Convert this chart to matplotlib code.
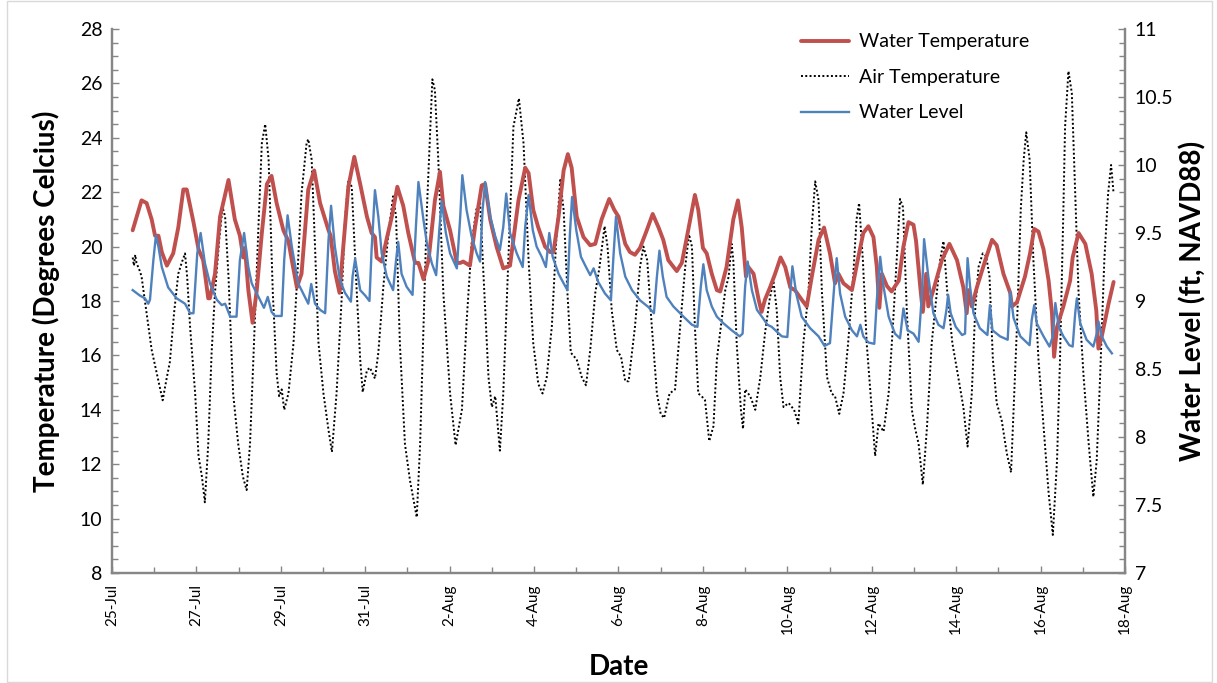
import numpy as np
import pandas as pd
import matplotlib
matplotlib.use('Agg')
import matplotlib.pyplot as plt
import matplotlib.dates as mdates
from matplotlib.ticker import MultipleLocator
from matplotlib.patches import Rectangle

plt.rcParams['font.family'] = ['Lato', 'DejaVu Sans']

# time axis: days after 25-Jul 00:00
start_date = pd.Timestamp('2012-07-25')
end_date = pd.Timestamp('2012-08-18')

# Water temperature (deg C)
wt_day = [0.49, 0.70, 0.82, 0.94, 1.02, 1.10, 1.18, 1.30, 1.45, 1.57, 1.69, 1.77, 1.93, 2.05, 2.16, 2.28, 2.32,
          2.44, 2.56, 2.76, 2.91, 3.03, 3.11, 3.15, 3.23, 3.33, 3.43, 3.55, 3.67, 3.78, 3.90, 4.06, 4.18, 4.26,
          4.38, 4.49, 4.65, 4.79, 4.93, 5.01, 5.13, 5.18, 5.28, 5.39, 5.48, 5.60, 5.74, 5.88, 6.04, 6.15, 6.23,
          6.27, 6.39, 6.51, 6.63, 6.76, 6.90, 7.02, 7.18, 7.26, 7.38, 7.50, 7.65, 7.77, 7.85, 8.01, 8.17, 8.25,
          8.32, 8.48, 8.60, 8.76, 8.84, 8.96, 9.11, 9.27, 9.43, 9.63, 9.79, 9.87, 9.98, 10.10, 10.26, 10.38,
          10.46, 10.58, 10.70, 10.80, 10.89, 11.01, 11.17, 11.33, 11.45, 11.60, 11.78, 11.90, 12.00, 12.16,
          12.27, 12.39, 12.51, 12.67, 12.81, 12.95, 13.06, 13.18, 13.38, 13.50, 13.62, 13.81, 13.89, 14.00,
          14.09, 14.21, 14.33, 14.41, 14.56, 14.72, 14.83, 14.92, 15.02, 15.05, 15.20, 15.32, 15.39, 15.47,
          15.59, 15.71, 15.84, 15.95, 16.07, 16.18, 16.34, 16.46, 16.58, 16.74, 16.87, 17.01, 17.13, 17.21,
          17.33, 17.53, 17.68, 17.80, 17.92, 18.04, 18.12, 18.18, 18.24, 18.36, 18.47, 18.64, 18.75, 18.87,
          18.99, 19.05, 19.15, 19.21, 19.29, 19.34, 19.46, 19.66, 19.84, 20.02, 20.17, 20.25, 20.29, 20.37,
          20.49, 20.69, 20.85, 20.96, 21.12, 21.28, 21.32, 21.44, 21.63, 21.75, 21.85, 21.95, 22.07, 22.19,
          22.27, 22.32, 22.39, 22.54, 22.70, 22.76, 22.90, 23.06, 23.21, 23.32, 23.37, 23.45, 23.61, 23.73]
wt_val = [20.6, 21.7, 21.6, 21.0, 20.4, 20.4, 19.8, 19.3, 19.75, 20.7, 22.1, 22.1, 20.9, 19.9, 19.5, 18.1, 18.1,
          19.0, 21.1, 22.45, 21.0, 20.4, 19.6, 19.95, 18.4, 17.2, 18.4, 20.5, 22.3, 22.6, 21.6, 20.6, 20.2, 19.5,
          18.5, 19.0, 22.1, 22.8, 21.6, 21.2, 20.6, 20.4, 19.1, 18.3, 20.0, 22.2, 23.3, 22.3, 21.1, 20.5, 20.35,
          19.6, 19.45, 20.3, 21.1, 22.2, 21.5, 20.5, 19.4, 19.4, 18.8, 19.5, 21.7, 22.75, 21.5, 20.6, 19.4, 19.4,
          19.45, 19.3, 20.7, 22.25, 22.3, 21.0, 20.0, 19.2, 19.3, 21.7, 22.9, 22.7, 21.35, 20.7, 20.0, 19.8,
          19.8, 21.1, 22.8, 23.4, 22.9, 21.1, 20.35, 20.05, 20.1, 21.0, 21.75, 21.35, 21.1, 20.1,
          19.8, 19.7, 19.95, 20.6, 21.2, 20.7, 20.25, 19.5, 19.1, 19.4, 20.35, 21.9, 21.35, 19.95,
          19.75, 19.0, 18.4, 18.35, 19.25, 21.0, 21.7, 20.7, 18.9, 19.3, 19.0, 18.05, 17.6, 18.05,
          18.5, 19.0, 19.6, 19.25, 18.5, 18.4, 18.05, 17.8, 18.9, 20.25, 20.7, 19.75, 18.65, 19.0,
          18.65, 18.4, 19.6, 20.5, 20.75, 20.35, 19.25, 17.75, 19.0, 18.55, 18.35, 18.75, 20.0, 20.9,
          20.8, 20.2, 18.5, 17.6, 19.0, 17.8, 18.4, 19.5, 20.1, 19.5, 18.5, 17.55, 18.4, 17.8,
          18.5, 19.5, 20.25, 20.05, 19.0, 18.3, 17.8, 17.95, 18.9, 19.75, 20.65, 20.55, 19.9, 18.75,
          17.55, 15.95, 17.05, 17.8, 18.75, 19.6, 20.5, 20.1, 19.0, 17.65, 16.25, 16.7, 17.9, 18.7]

# Air temperature (deg C)
at_day = [0.49, 0.52, 0.55, 0.58, 0.66, 0.70, 0.82, 0.94, 1.06, 1.20, 1.30, 1.37, 1.47, 1.57, 1.65, 1.73, 1.78,
          1.85, 1.97, 2.05, 2.13, 2.20, 2.28, 2.36, 2.44, 2.54, 2.62, 2.68, 2.76, 2.87, 2.99, 3.10, 3.19, 3.27,
          3.36, 3.47, 3.55, 3.63, 3.71, 3.81, 3.90, 3.96, 4.02, 4.08, 4.18, 4.30, 4.39, 4.49, 4.61, 4.65, 4.73,
          4.81, 4.89, 5.01, 5.13, 5.21, 5.32, 5.44, 5.52, 5.60, 5.68, 5.80, 5.88, 5.94, 6.04, 6.11, 6.23, 6.31,
          6.43, 6.55, 6.66, 6.73, 6.82, 6.94, 7.06, 7.22, 7.30, 7.38, 7.46, 7.52, 7.59, 7.65, 7.73, 7.85, 8.01,
          8.14, 8.29, 8.40, 8.52, 8.63, 8.72, 8.80, 8.92, 9.00, 9.08, 9.19, 9.27, 9.39, 9.51, 9.64, 9.75, 9.87,
          9.98, 10.10, 10.20, 10.30, 10.42, 10.52, 10.62, 10.70, 10.79, 10.87, 11.01, 11.13, 11.23, 11.33,
          11.45, 11.55, 11.67, 11.74, 11.84, 11.96, 12.06, 12.16, 12.24, 12.39, 12.51, 12.59, 12.68, 12.79,
          12.91, 13.00, 13.08, 13.21, 13.34, 13.46, 13.58, 13.67, 13.74, 13.81, 13.89, 13.97, 14.05, 14.15,
          14.25, 14.33, 14.45, 14.53, 14.61, 14.68, 14.72, 14.80, 14.90, 14.95, 15.00, 15.12, 15.24, 15.36,
          15.47, 15.58, 15.67, 15.75, 15.83, 15.91, 16.03, 16.16, 16.26, 16.38, 16.50, 16.58, 16.66, 16.74,
          16.82, 16.94, 17.05, 17.13, 17.23, 17.33, 17.44, 17.56, 17.64, 17.70, 17.79, 17.88, 18.00, 18.08,
          18.16, 18.28, 18.40, 18.50, 18.59, 18.67, 18.74, 18.83, 18.95, 19.03, 19.11, 19.21, 19.31, 19.42,
          19.54, 19.62, 19.70, 19.79, 19.91, 20.05, 20.17, 20.27, 20.37, 20.45, 20.53, 20.63, 20.71, 20.79,
          20.87, 20.96, 21.08, 21.20, 21.30, 21.36, 21.44, 21.53, 21.60, 21.66, 21.74, 21.83, 21.95, 22.07,
          22.19, 22.29, 22.39, 22.46, 22.54, 22.58, 22.66, 22.74, 22.82, 22.90, 23.02, 23.14, 23.25, 23.33,
          23.41, 23.51, 23.60, 23.67, 23.73]
at_val = [19.6, 19.3, 19.7, 19.4, 19.1, 18.9, 17.55, 16.2, 15.35, 14.35, 15.2, 15.75, 17.55, 19.0, 19.4, 19.75, 18.9,
          17.05, 14.6, 12.3, 11.55, 10.6, 12.75, 16.1, 18.3, 20.25, 21.45, 21.1, 18.9, 14.6, 12.75, 11.55, 11.05, 12.75,
          16.3, 20.75, 23.8, 24.5, 23.2, 18.3, 15.35, 14.5, 14.75, 14.0, 14.6, 16.45, 18.9, 21.95, 23.8, 23.95, 23.2,
          20.0, 16.5, 14.6, 13.25, 12.45, 14.6, 18.05, 21.0, 22.45, 22.2, 18.3, 15.85, 14.65, 15.45, 15.55, 15.15, 16.1,
          18.55, 20.5, 21.85, 21.1, 16.45, 12.75, 11.4, 10.05, 12.75, 17.05, 21.35, 23.55, 26.15, 25.75, 23.2, 18.3, 14.6,
          12.7, 14.0, 17.2, 20.1, 21.35, 21.7, 19.0, 15.2, 14.1, 14.5, 12.5, 14.6, 19.5, 24.4, 25.45, 23.8, 19.5,
          16.45, 14.95, 14.6, 15.2, 17.05, 20.1, 22.45, 21.35, 18.3, 16.1, 15.85, 15.2, 14.9, 16.2,
          18.3, 19.25, 20.75, 20.0, 17.65, 16.2, 15.95, 15.05, 15.05, 17.05, 19.25, 20.0, 19.5, 17.05,
          14.6, 13.85, 13.7, 14.6, 14.75, 17.05, 19.25, 20.45, 20.0, 17.05, 14.6, 14.5, 14.35, 12.85,
          13.4, 15.85, 17.4, 18.4, 18.9, 20.1, 19.5, 16.45, 14.0, 13.3, 14.75, 14.5, 14.0, 15.2,
          16.8, 18.05, 18.75, 17.65, 15.2, 14.1, 14.25, 14.0, 13.5, 16.45, 18.3, 20.75, 22.4, 21.7,
          18.3, 15.2, 14.6, 14.5, 13.85, 14.6, 16.45, 18.9, 21.0, 21.6, 19.5, 16.45, 14.0, 12.3,
          13.5, 13.2, 14.6, 17.05, 19.5, 21.75, 21.45, 17.65, 14.0, 13.3, 12.75, 11.25, 13.4, 16.45,
          18.3, 19.5, 20.2, 18.3, 16.45, 15.2, 14.1, 12.65, 14.6, 17.65, 19.25, 19.75, 19.65, 18.9,
          15.85, 14.25, 13.6, 12.4, 11.7, 14.0, 17.05, 21.35, 23.2, 24.2, 23.2, 19.5, 15.85, 13.4,
          10.95, 9.4, 12.15, 15.85, 21.35, 24.4, 26.45, 25.65, 21.95, 18.3, 15.2, 12.75, 10.8, 12.15,
          15.2, 19.5, 21.95, 23.0, 21.95]

# Water level (ft, NAVD88)
wl_day = [0.49, 0.66, 0.78, 0.86, 0.90, 0.98, 1.04, 1.10, 1.18, 1.33, 1.53, 1.73, 1.85, 1.93, 2.02, 2.10, 2.20,
          2.32, 2.48, 2.60, 2.68, 2.80, 2.95, 3.03, 3.13, 3.23, 3.31, 3.47, 3.60, 3.69, 3.78, 3.86, 4.02, 4.08,
          4.16, 4.26, 4.41, 4.57, 4.65, 4.72, 4.81, 4.93, 5.05, 5.13, 5.19, 5.28, 5.40, 5.52, 5.66, 5.70, 5.76,
          5.88, 6.00, 6.10, 6.15, 6.23, 6.31, 6.39, 6.51, 6.66, 6.73, 6.78, 6.86, 6.98, 7.12, 7.20, 7.26, 7.38,
          7.46, 7.58, 7.68, 7.76, 7.81, 7.91, 8.01, 8.17, 8.25, 8.30, 8.40, 8.52, 8.64, 8.72, 8.78, 8.84, 8.96,
          9.08, 9.19, 9.27, 9.34, 9.43, 9.59, 9.73, 9.79, 9.87, 9.97, 10.06, 10.18, 10.28, 10.36, 10.44, 10.58,
          10.70, 10.79, 10.85, 10.90, 11.00, 11.11, 11.23, 11.33, 11.41, 11.52, 11.68, 11.82, 11.88, 11.94,
          12.04, 12.16, 12.32, 12.51, 12.71, 12.84, 12.91, 12.97, 13.05, 13.14, 13.30, 13.54, 13.74, 13.87,
          13.95, 14.01, 14.09, 14.21, 14.33, 14.49, 14.68, 14.87, 14.94, 15.00, 15.06, 15.16, 15.28, 15.42,
          15.53, 15.63, 15.75, 15.87, 16.00, 16.07, 16.12, 16.21, 16.34, 16.54, 16.74, 16.88, 17.01, 17.11,
          17.17, 17.25, 17.37, 17.53, 17.65, 17.73, 17.80, 17.92, 18.06, 18.12, 18.20, 18.28, 18.40, 18.55,
          18.67, 18.75, 18.85, 18.99, 19.11, 19.19, 19.24, 19.34, 19.46, 19.58, 19.70, 19.77, 19.81, 19.87,
          19.99, 20.14, 20.21, 20.27, 20.33, 20.41, 20.56, 20.74, 20.80, 20.86, 21.04, 21.22, 21.28, 21.36,
          21.52, 21.74, 21.79, 21.85, 21.91, 22.07, 22.21, 22.29, 22.35, 22.43, 22.54, 22.68, 22.76, 22.82,
          22.86, 22.94, 23.09, 23.25, 23.33, 23.37, 23.45, 23.57, 23.69]
wl_val = [9.08, 9.04, 9.02, 8.98, 9.01, 9.30, 9.48, 9.40, 9.25, 9.10, 9.02, 8.98, 8.91, 8.91, 9.35, 9.50, 9.28,
          9.13, 9.01, 8.97, 8.98, 8.885, 8.885, 9.30, 9.50, 9.25, 9.13, 9.03, 8.95, 9.03, 8.92, 8.89, 8.89, 9.30,
          9.63, 9.40, 9.13, 9.03, 8.98, 9.125, 8.98, 8.935, 8.91, 9.45, 9.70, 9.40, 9.155, 9.06, 8.995, 9.18, 9.31,
          9.08, 9.04, 9.00, 9.375, 9.815, 9.62, 9.35, 9.18, 9.08, 9.30, 9.435, 9.20, 9.105, 9.045, 9.545, 9.875, 9.595,
          9.425, 9.275, 9.19, 9.545, 9.735, 9.50, 9.35, 9.24, 9.62, 9.925, 9.67, 9.475, 9.35, 9.29, 9.67, 9.875, 9.62,
          9.475, 9.375, 9.545, 9.79, 9.50, 9.35, 9.25, 9.545, 9.78, 9.52, 9.40, 9.325, 9.25, 9.50, 9.325, 9.20,
          9.13, 9.08, 9.50, 9.765, 9.52, 9.325, 9.25, 9.19, 9.24, 9.14, 9.055, 9.005, 9.325, 9.62,
          9.35, 9.18, 9.08, 9.005, 8.955, 8.91, 9.18, 9.37, 9.18, 9.03, 8.96, 8.885, 8.825, 8.81,
          9.105, 9.27, 9.08, 8.96, 8.885, 8.835, 8.785, 8.74, 8.76, 9.105, 9.29, 9.08, 8.935, 8.875,
          8.825, 8.81, 8.775, 8.74, 8.735, 9.055, 9.255, 9.055, 8.885, 8.80, 8.74, 8.67, 8.69, 9.105,
          9.315, 9.055, 8.885, 8.785, 8.74, 8.825, 8.74, 8.695, 8.685, 9.005, 9.325, 9.105, 8.885, 8.76,
          8.725, 8.945, 8.785, 8.76, 8.70, 9.055, 9.455, 9.18, 8.91, 8.825, 8.80, 8.935, 9.045, 8.91,
          8.81, 8.75, 8.76, 9.315, 9.105, 8.91, 8.80, 8.75, 8.97, 8.785, 8.74, 8.715, 9.07, 8.875,
          8.74, 8.675, 8.86, 8.97, 8.835, 8.74, 8.665, 8.74, 8.985, 8.81, 8.74, 8.675, 8.665, 8.91,
          9.02, 8.835, 8.715, 8.665, 8.76, 8.85, 8.74, 8.665, 8.615]

def to_dates(days):
    return start_date + pd.to_timedelta(np.array(days), unit='D')

red = '#C0504D'
blue = '#4F81BD'
gray = '#868686'

fig = plt.figure(figsize=(12.17, 6.83), dpi=100)
fig.patches.append(Rectangle((7/1217, 0.002), 1205/1217, 0.996, transform=fig.transFigure,
                             fill=False, edgecolor='#D9D9D9', linewidth=1))
ax = fig.add_axes([112/1217, 1 - 573/683, (1125 - 112)/1217, (573 - 29)/683])
ax2 = ax.twinx()

l1, = ax.plot(to_dates(wt_day), wt_val, color=red, lw=2.8, label='Water Temperature', zorder=3,
              solid_joinstyle='round', solid_capstyle='round')
l2, = ax.plot(to_dates(at_day), at_val, color='black', lw=1.4, linestyle=(0, (1, 1.2)),
              label='Air Temperature', zorder=2)
l3, = ax2.plot(to_dates(wl_day), wl_val, color=blue, lw=1.7, label='Water Level',
               solid_joinstyle='round')

ax.set_xlim(start_date, end_date)
ax.set_ylim(8, 28)
ax2.set_ylim(7, 11)

ax.xaxis.set_major_locator(mdates.DayLocator(interval=2))
ax.xaxis.set_minor_locator(mdates.DayLocator())
ax.xaxis.set_major_formatter(mdates.DateFormatter('%-d-%b'))
ax.yaxis.set_major_locator(MultipleLocator(2))
ax.yaxis.set_minor_locator(MultipleLocator(0.5))
ax2.yaxis.set_major_locator(MultipleLocator(0.5))
ax2.yaxis.set_minor_locator(MultipleLocator(0.1))
ax2.yaxis.set_major_formatter(plt.FuncFormatter(lambda v, p: f'{v:g}'))

for a in (ax, ax2):
    for s in a.spines.values():
        s.set_color(gray)
        s.set_linewidth(1.6)
    a.spines['top'].set_visible(False)
    a.tick_params(which='both', direction='in', color=gray, width=1)
    a.tick_params(which='major', length=5)
    a.tick_params(which='minor', length=4)
ax.tick_params(axis='y', labelsize=14, pad=7)
ax2.tick_params(axis='y', labelsize=14, pad=7)
ax.tick_params(axis='x', labelsize=11, rotation=90, pad=8)

ax.set_ylabel('Temperature (Degrees Celcius)', fontsize=20, fontweight='bold', labelpad=14)
ax2.set_ylabel('Water Level (ft, NAVD88)', fontsize=20, fontweight='bold', labelpad=4)
ax.set_xlabel('Date', fontsize=20, fontweight='bold', labelpad=14)

ax2.legend(handles=[l1, l2, l3], loc='upper left', bbox_to_anchor=(783/1217, 1 - 16/683),
           bbox_transform=fig.transFigure, frameon=False, fontsize=14, handlelength=2.5,
           labelspacing=0.95, handletextpad=0.5)

plt.savefig('out.png', dpi=100)
